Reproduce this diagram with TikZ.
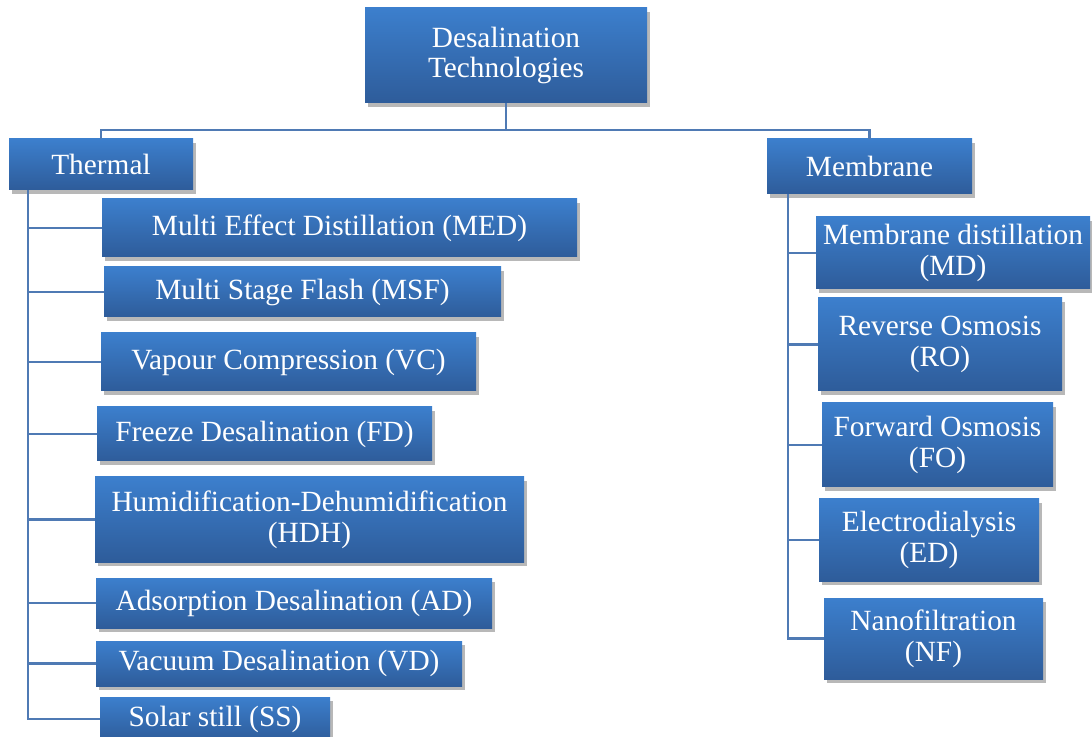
\documentclass[tikz,border=0pt]{standalone}
\usepackage{fontspec}
\setmainfont{Liberation Serif}
\usetikzlibrary{shadows}
\definecolor{topblue}{RGB}{60,127,205}
\definecolor{botblue}{RGB}{46,92,154}
\definecolor{linkblue}{RGB}{79,122,180}
\tikzset{
  bx/.style 2 args={rectangle, top color=topblue, bottom color=botblue, draw=none,
    minimum width=#1*0.75pt, minimum height=#2*0.75pt, inner sep=0pt,
    text=white, align=center, font=\fontsize{22}{23}\selectfont,
    drop shadow={shadow xshift=2pt, shadow yshift=-3pt, opacity=0.28, fill=black}},
  conn/.style={draw=linkblue, line width=1.6pt}
}
\begin{document}
\begin{tikzpicture}[x=0.75pt,y=-0.75pt]
\useasboundingbox[fill=white] (0,0) rectangle (1092,737);
% top level
\node[bx={282}{95}] (root) at (506,55.5) {Desalination\\Technologies};
\node[bx={184}{51}] (thermal) at (101,164.5) {Thermal};
\node[bx={205}{55}] (membrane) at (869.5,166.5) {Membrane};
% thermal children
\node[bx={475}{58}] (med) at (339.5,228) {Multi Effect Distillation (MED)};
\node[bx={397}{50}] (msf) at (302.5,292) {Multi Stage Flash (MSF)};
\node[bx={375}{58}] (vc) at (288.5,362) {Vapour Compression (VC)};
\node[bx={335}{54}] (fd) at (264.5,434) {Freeze Desalination (FD)};
\node[bx={429}{85}] (hdh) at (309.5,519.5) {Humidification-Dehumidification\\(HDH)};
\node[bx={396}{50}] (ad) at (294,603) {Adsorption Desalination (AD)};
\node[bx={366}{45}] (vd) at (279,663.5) {Vacuum Desalination (VD)};
\node[bx={230}{44}] (ss) at (215,719) {Solar still (SS)};
% membrane children
\node[bx={274}{72}] (md) at (953,253) {Membrane distillation\\(MD)};
\node[bx={244}{93}] (ro) at (940,344.5) {Reverse Osmosis\\(RO)};
\node[bx={231}{84}] (fo) at (937.5,445) {Forward Osmosis\\(FO)};
\node[bx={220}{82}] (ed) at (929,540) {Electrodialysis\\(ED)};
\node[bx={219}{81}] (nf) at (933.5,638.5) {Nanofiltration\\(NF)};
% helper coordinates
\coordinate (bus) at (506,130);
\coordinate (tx) at (28,0);
\coordinate (mx) at (788,0);
% connectors
\begin{scope}[on background layer/.style={}]
\draw[conn] (root.south) -- (bus);
\draw[conn] (bus) -| (thermal.north);
\draw[conn] (bus) -| (membrane.north);
\draw[conn] (thermal.south -| tx) |- (ss.west);
\foreach \n in {med,msf,vc,fd,hdh,ad,vd}
  \draw[conn] (tx |- \n.west) -- (\n.west);
\draw[conn] (membrane.south -| mx) |- (nf.west);
\foreach \n in {md,ro,fo,ed}
  \draw[conn] (mx |- \n.west) -- (\n.west);
\end{scope}
\end{tikzpicture}
\end{document}
